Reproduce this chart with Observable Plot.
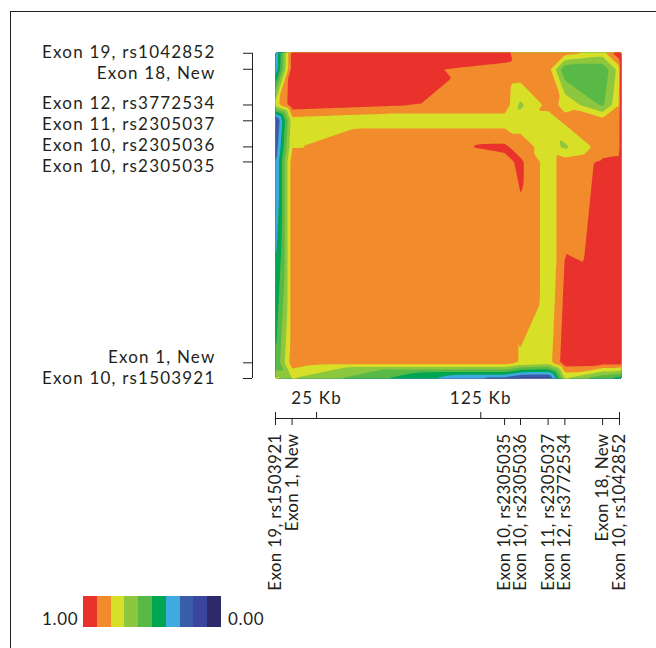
<!DOCTYPE html>
<html>
<head>
<meta charset="utf-8">
<script src="https://cdn.jsdelivr.net/npm/d3@7"></script>
<script src="https://cdn.jsdelivr.net/npm/@observablehq/plot@0.6"></script>
<style>
  body { margin: 0; background: #fff; }
  #wrap { position: relative; width: 656px; height: 648px; overflow: hidden; font-family: Lato, sans-serif; color: #231f20; }
  #frame { position: absolute; left: 10px; top: 11px; width: 700px; height: 700px; border-left: 1.5px solid #231f20; border-top: 1.5px solid #231f20; box-sizing: border-box; }
  #chart { position: absolute; left: 0; top: 0; }
  #chart g[aria-label="text"] text { letter-spacing: 1.2px; }
  #chart g[aria-label="x-axis tick label"] text { letter-spacing: 0.3px; }
  #legend { position: absolute; left: 0; top: 596px; width: 656px; height: 40px; }
  #legend .bar { position: absolute; left: 83px; top: 0; height: 31px; display: flex; }
  #legend .bar div { width: 13.8px; height: 31px; }
  #legend .lab { position: absolute; top: 13px; font-size: 17px; line-height: 20px; letter-spacing: 0.7px; }
</style>
</head>
<body>
<div id="wrap">
  <div id="frame"></div>
  <div id="chart"></div>
  <div id="legend"></div>
</div>
<script>
// SNP positions (Kb) along the region, same order on both axes
const snpKb = [0, 10.1, 139.5, 149.2, 166, 176.2, 199.2, 209.5];
const yLabels = ["Exon 10, rs1503921", "Exon 1, New", "Exon 10, rs2305035", "Exon 10, rs2305036",
                 "Exon 11, rs2305037", "Exon 12, rs3772534", "Exon 18, New", "Exon 19, rs1042852"];
const xLabels = ["Exon 19, rs1503921", "Exon 1, New", "Exon 10, rs2305035", "Exon 10, rs2305036",
                 "Exon 11, rs2305037", "Exon 12, rs3772534", "Exon 18, New", "Exon 10, rs1042852"];
const kbTicks = [25, 125];
const kbLabels = ["25 Kb", "125 Kb"];

// LD values: one row per y SNP (bottom to top), values across x SNPs (left to right)
const ld_row0 = [0.72, 0.70, 0.25, 0.15, 0.15, 0.70, 0.50, 0.45];
const ld_row1 = [0.50, 0.86, 0.86, 0.79, 0.75, 0.96, 0.95, 0.95];
const ld_row2 = [0.28, 0.86, 0.87, 0.92, 0.75, 0.85, 0.915, 0.93];
const ld_row3 = [0.22, 0.795, 0.92, 0.85, 0.75, 0.68, 0.85, 0.85];
const ld_row4 = [0.15, 0.75, 0.75, 0.75, 0.75, 0.82, 0.85, 0.86];
const ld_row5 = [0.75, 0.96, 0.86, 0.68, 0.83, 0.78, 0.58, 0.80];
const ld_row6 = [0.32, 0.95, 0.88, 0.87, 0.85, 0.52, 0.52, 0.75];
const ld_row7 = [0.30, 0.95, 0.93, 0.85, 0.85, 0.84, 0.75, 0.99];
const ldRows = [ld_row0, ld_row1, ld_row2, ld_row3, ld_row4, ld_row5, ld_row6, ld_row7];

// colour bins, 0.0 -> 1.0
const thresholds = [0, 0.1, 0.2, 0.3, 0.4, 0.5, 0.6, 0.7, 0.8, 0.9];
const binColors = ["#2c2a6b", "#39469c", "#3a5da9", "#3eaadf", "#00a651",
                   "#58b947", "#8dc63f", "#d7df26", "#f28b2c", "#e8322b"];
const legendLabels = ["1.00", "0.00"];

// small vertical nudges (px) so the crowded left labels do not collide
const yLabelNudge = [0, -4.8, 4.5, -1, 3.7, -1, 4, -0.5];

const cells = [];
ldRows.forEach((row, j) => row.forEach((v, i) => cells.push({x: snpKb[i], y: snpKb[j], v})));

const xMap = new Map(snpKb.map((d, i) => [d, xLabels[i]]));
const topTicks = [snpKb[0], ...kbTicks, snpKb[snpKb.length - 1]];
const ink = "#231f20";

const chart = Plot.plot({
  width: 656,
  height: 592,
  marginLeft: 275,
  marginRight: 35,
  marginTop: 52,
  marginBottom: 214,
  x: {domain: [0, 210.7], label: null},
  y: {domain: [0, 210], label: null},
  color: {type: "threshold", domain: thresholds.slice(1), range: binColors},
  style: {fontFamily: "Lato", color: ink, background: "transparent", overflow: "visible"},
  marks: [
    Plot.contour(cells, {x: "x", y: "y", fill: "v", interpolate: "barycentric", thresholds}),
    // left (y) axis, offset from the map
    Plot.ruleX([snpKb[0]], {y1: snpKb[0], y2: snpKb[snpKb.length - 1], dx: -23, stroke: ink}),
    Plot.axisY(snpKb, {anchor: "left", dx: -23, tickSize: 9, stroke: ink, tickFormat: () => "", label: null}),
    ...snpKb.map((d, i) => Plot.text([d], {
      y: v => v, text: () => yLabels[i], frameAnchor: "left", textAnchor: "end",
      dx: -60, dy: yLabelNudge[i], fontSize: 17, fill: ink
    })),
    // bottom (x) axis line with SNP ticks below and Kb ticks above
    Plot.ruleY([snpKb[0]], {x1: snpKb[0], x2: snpKb[snpKb.length - 1], dy: 40, stroke: ink}),
    Plot.axisX(snpKb, {anchor: "bottom", dy: 40, tickSize: 7, tickPadding: 8, tickRotate: -90, stroke: ink,
      tickFormat: d => xMap.get(d), fontSize: 17, label: null}),
    Plot.axisX(topTicks, {anchor: "top", dy: 366, tickSize: 7, stroke: ink, tickFormat: () => "", label: null}),
    Plot.text(kbTicks, {x: d => d, text: (d, i) => kbLabels[i], frameAnchor: "bottom", dy: 25,
      fontSize: 17, fill: ink})
  ]
});
document.getElementById("chart").appendChild(chart);

// legend: 1.00 [red ... navy] 0.00
const legend = document.getElementById("legend");
const l1 = document.createElement("div");
l1.className = "lab"; l1.style.left = "42px"; l1.textContent = legendLabels[0];
legend.appendChild(l1);
const bar = document.createElement("div");
bar.className = "bar";
binColors.slice().reverse().forEach(c => {
  const s = document.createElement("div");
  s.style.background = c;
  bar.appendChild(s);
});
legend.appendChild(bar);
const l2 = document.createElement("div");
l2.className = "lab"; l2.style.left = "228px"; l2.textContent = legendLabels[1];
legend.appendChild(l2);
</script>
</body>
</html>
